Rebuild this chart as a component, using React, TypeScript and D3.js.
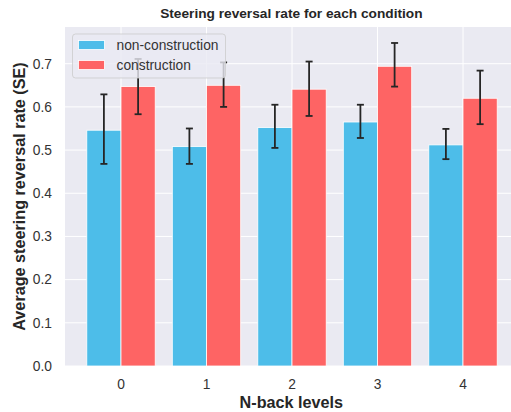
import { useRef, useEffect } from 'react';
import * as d3 from 'd3';

const levels = ['0', '1', '2', '3', '4'];
const nonConstruction = [0.546, 0.508, 0.552, 0.565, 0.512];
const nonConstructionLow = [0.468, 0.468, 0.505, 0.528, 0.479];
const nonConstructionHigh = [0.629, 0.550, 0.605, 0.605, 0.549];
const construction = [0.647, 0.650, 0.641, 0.694, 0.620];
const constructionLow = [0.583, 0.600, 0.579, 0.647, 0.560];
const constructionHigh = [0.711, 0.703, 0.705, 0.748, 0.684];
const yTicks = [0, 0.1, 0.2, 0.3, 0.4, 0.5, 0.6, 0.7];

const WIDTH = 511;
const HEIGHT = 412;
const PLOT = { left: 65, top: 27, bottom: 366 };
const BLUE = '#4dbde9';
const RED = '#fe6464';
const FONT = '"Liberation Sans", Arial, sans-serif';

export default function App() {
  const svgRef = useRef<SVGSVGElement>(null);

  useEffect(() => {
    if (!svgRef.current) return;
    const svg = d3.select(svgRef.current);
    svg.selectAll('*').remove();

    const x = d3.scaleLinear().domain([-0.655, 4.64]).range([PLOT.left, PLOT.left + 5.295 * 85.5]);
    const y = d3.scaleLinear().domain([0, 0.785]).range([PLOT.bottom, PLOT.top]);
    const [x0, x1] = x.range();

    // background
    svg.append('rect')
      .attr('x', x0).attr('y', PLOT.top)
      .attr('width', x1 - x0).attr('height', PLOT.bottom - PLOT.top)
      .attr('fill', '#eaeaf2');

    // grid
    svg.append('g').attr('stroke', '#fff').attr('stroke-width', 1)
      .selectAll('line').data(yTicks).join('line')
      .attr('x1', x0).attr('x2', x1)
      .attr('y1', (d) => y(d)).attr('y2', (d) => y(d));
    svg.append('g').attr('stroke', '#fff').attr('stroke-width', 1)
      .selectAll('line').data(levels).join('line')
      .attr('x1', (_, i) => x(i)).attr('x2', (_, i) => x(i))
      .attr('y1', PLOT.top).attr('y2', PLOT.bottom);

    const series = [
      { vals: nonConstruction, lo: nonConstructionLow, hi: nonConstructionHigh, color: BLUE, off: -0.4 },
      { vals: construction, lo: constructionLow, hi: constructionHigh, color: RED, off: 0 },
    ];

    series.forEach((s) => {
      svg.append('g').selectAll('rect').data(s.vals).join('rect')
        .attr('x', (_, i) => x(i + s.off))
        .attr('width', x(0.4) - x(0))
        .attr('y', (d) => y(d))
        .attr('height', (d) => y(0) - y(d))
        .attr('fill', s.color)
        .attr('stroke', '#fff').attr('stroke-width', 0.8);
    });

    // error bars
    series.forEach((s) => {
      const g = svg.append('g').attr('stroke', '#262626').attr('stroke-width', 1.8);
      s.vals.forEach((_, i) => {
        const cx = x(i + s.off + 0.2);
        g.append('line').attr('x1', cx).attr('x2', cx).attr('y1', y(s.lo[i])).attr('y2', y(s.hi[i]));
        g.append('line').attr('x1', cx - 3.5).attr('x2', cx + 3.5).attr('y1', y(s.lo[i])).attr('y2', y(s.lo[i]));
        g.append('line').attr('x1', cx - 3.5).attr('x2', cx + 3.5).attr('y1', y(s.hi[i])).attr('y2', y(s.hi[i]));
      });
    });

    // y tick labels
    svg.append('g').selectAll('text').data(yTicks).join('text')
      .attr('x', 52).attr('y', (d) => y(d)).attr('dy', '0.35em')
      .attr('text-anchor', 'end')
      .attr('font-family', FONT).attr('font-size', 13.8).attr('fill', '#333')
      .text((d) => d3.format('.1f')(d));

    // x tick labels
    svg.append('g').selectAll('text').data(levels).join('text')
      .attr('x', (_, i) => x(i)).attr('y', 384).attr('dy', '0.35em')
      .attr('text-anchor', 'middle')
      .attr('font-family', FONT).attr('font-size', 13.8).attr('fill', '#333')
      .text((d) => d);

    // legend
    const lg = svg.append('g');
    lg.append('rect')
      .attr('x', 72.5).attr('y', 34).attr('width', 153).attr('height', 44).attr('rx', 3)
      .attr('fill', '#eaeaf2').attr('fill-opacity', 0.8)
      .attr('stroke', '#cccccc').attr('stroke-opacity', 0.8);
    const items = [
      { label: 'non-construction', color: BLUE, cy: 45 },
      { label: 'construction', color: RED, cy: 65 },
    ];
    items.forEach((it) => {
      lg.append('rect').attr('x', 78.5).attr('y', it.cy - 4.5).attr('width', 26).attr('height', 9)
        .attr('fill', it.color).attr('stroke', '#fff').attr('stroke-width', 0.8);
      lg.append('text').attr('x', 116.5).attr('y', it.cy).attr('dy', '0.35em')
        .attr('font-family', FONT).attr('font-size', 13.8).attr('fill', '#333')
        .text(it.label);
    });

    // title & axis labels
    svg.append('text')
      .attr('x', (x0 + x1) / 2).attr('y', 18)
      .attr('text-anchor', 'middle')
      .attr('font-family', FONT).attr('font-size', 13.7).attr('font-weight', 'bold').attr('fill', '#262626')
      .text('Steering reversal rate for each condition');

    svg.append('text')
      .attr('x', (x0 + x1) / 2).attr('y', 407.5)
      .attr('text-anchor', 'middle')
      .attr('font-family', FONT).attr('font-size', 16.2).attr('font-weight', 'bold').attr('fill', '#262626')
      .text('N-back levels');

    svg.append('text')
      .attr('transform', `translate(25,${(PLOT.top + PLOT.bottom) / 2}) rotate(-90)`)
      .attr('text-anchor', 'middle')
      .attr('font-family', FONT).attr('font-size', 16.2).attr('font-weight', 'bold').attr('fill', '#262626')
      .text('Average steering reversal rate (SE)');
  }, []);

  return (
    <svg
      ref={svgRef}
      width={WIDTH}
      height={HEIGHT}
      viewBox={`0 0 ${WIDTH} ${HEIGHT}`}
      style={{ position: 'absolute', left: 0, top: 0, background: '#fff' }}
    />
  );
}
